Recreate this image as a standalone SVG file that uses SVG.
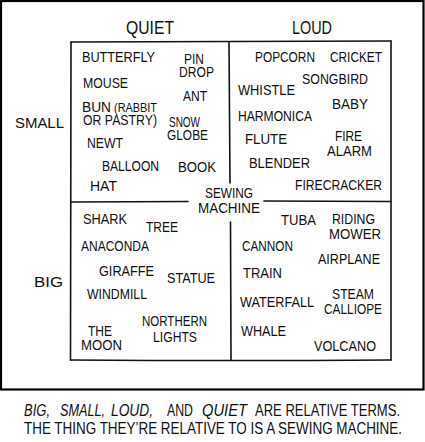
<svg xmlns="http://www.w3.org/2000/svg" width="425" height="442" viewBox="0 0 425 442">
<style>
  .t{font-family:"Liberation Sans","DejaVu Sans",sans-serif;font-size:14.5px;fill:#111}
  .h{font-size:18px}
  .s{font-size:12px}
  .c{font-size:16.5px}
  .i{font-style:italic}
  .ln{fill:none;stroke:#111;stroke-width:1.6;stroke-linecap:round}
</style>
<rect x="1" y="1" width="422.5" height="388.5" fill="#fff" stroke="#000" stroke-width="2.2"/>
<g id="grid">
  <path class="ln" d="M71,42 Q230,41.5 391,41"/>
  <path class="ln" d="M71,42 Q70.5,200 70.5,360"/>
  <path class="ln" d="M391,41 Q391.5,200 391,360"/>
  <path class="ln" d="M70.5,360 Q230,361 391,360"/>
  <path class="ln" d="M229,42 Q229.5,110 230,183"/>
  <path class="ln" d="M230.5,222 Q231,290 231,360"/>
  <path class="ln" d="M71,202 Q130,201.5 188,201.5"/>
  <path class="ln" d="M264,201 Q330,201 391,201.5"/>
</g>
<g id="axis-quiet"><text class="t h" x="126" y="34" textLength="48" lengthAdjust="spacingAndGlyphs">QUIET</text></g>
<g id="axis-loud"><text class="t h" x="292" y="34" textLength="40" lengthAdjust="spacingAndGlyphs">LOUD</text></g>
<g id="axis-small"><text class="t" x="15" y="128" font-size="15" textLength="49" lengthAdjust="spacingAndGlyphs">SMALL</text></g>
<g id="axis-big"><text class="t" x="34" y="287" font-size="16" textLength="29" lengthAdjust="spacingAndGlyphs">BIG</text></g>

<g id="butterfly"><text class="t" x="82" y="62" textLength="73" lengthAdjust="spacingAndGlyphs">BUTTERFLY</text></g>
<g id="pin-drop"><text class="t" x="184" y="64" textLength="20" lengthAdjust="spacingAndGlyphs">PIN</text><text class="t" x="179" y="77" textLength="35" lengthAdjust="spacingAndGlyphs">DROP</text></g>
<g id="mouse"><text class="t" x="83" y="88" textLength="45" lengthAdjust="spacingAndGlyphs">MOUSE</text></g>
<g id="ant"><text class="t" x="183" y="101" textLength="24" lengthAdjust="spacingAndGlyphs">ANT</text></g>
<g id="bun"><text class="t" x="82" y="112" textLength="29" lengthAdjust="spacingAndGlyphs">BUN</text><text class="t s" x="114" y="112" textLength="43" lengthAdjust="spacingAndGlyphs">(RABBIT</text><text class="t" x="83" y="125" font-size="13" textLength="74" lengthAdjust="spacingAndGlyphs">OR PASTRY)</text></g>
<g id="snow-globe"><text class="t" x="169" y="127" textLength="31" lengthAdjust="spacingAndGlyphs">SNOW</text><text class="t" x="167" y="140" textLength="41" lengthAdjust="spacingAndGlyphs">GLOBE</text></g>
<g id="newt"><text class="t" x="87" y="148" textLength="36" lengthAdjust="spacingAndGlyphs">NEWT</text></g>
<g id="balloon"><text class="t" x="102" y="171" textLength="57" lengthAdjust="spacingAndGlyphs">BALLOON</text></g>
<g id="book"><text class="t" x="178" y="172" textLength="38" lengthAdjust="spacingAndGlyphs">BOOK</text></g>
<g id="hat"><text class="t" x="90" y="191" textLength="27" lengthAdjust="spacingAndGlyphs">HAT</text></g>
<g id="sewing-machine"><text class="t" x="205" y="198" textLength="48" lengthAdjust="spacingAndGlyphs">SEWING</text><text class="t" x="198" y="213" textLength="62" lengthAdjust="spacingAndGlyphs">MACHINE</text></g>

<g id="popcorn"><text class="t" x="255" y="62" textLength="60" lengthAdjust="spacingAndGlyphs">POPCORN</text></g>
<g id="cricket"><text class="t" x="330" y="62" textLength="52" lengthAdjust="spacingAndGlyphs">CRICKET</text></g>
<g id="songbird"><text class="t" x="302" y="84" textLength="66" lengthAdjust="spacingAndGlyphs">SONGBIRD</text></g>
<g id="whistle"><text class="t" x="238" y="95" textLength="57" lengthAdjust="spacingAndGlyphs">WHISTLE</text></g>
<g id="baby"><text class="t" x="332" y="109" textLength="36" lengthAdjust="spacingAndGlyphs">BABY</text></g>
<g id="harmonica"><text class="t" x="238" y="121" textLength="74" lengthAdjust="spacingAndGlyphs">HARMONICA</text></g>
<g id="flute"><text class="t" x="245" y="144" textLength="42" lengthAdjust="spacingAndGlyphs">FLUTE</text></g>
<g id="fire-alarm"><text class="t" x="335" y="141" textLength="27" lengthAdjust="spacingAndGlyphs">FIRE</text><text class="t" x="327" y="156" textLength="45" lengthAdjust="spacingAndGlyphs">ALARM</text></g>
<g id="blender"><text class="t" x="249" y="168" textLength="61" lengthAdjust="spacingAndGlyphs">BLENDER</text></g>
<g id="firecracker"><text class="t" x="295" y="190" textLength="87" lengthAdjust="spacingAndGlyphs">FIRECRACKER</text></g>

<g id="shark"><text class="t" x="83" y="224" textLength="44" lengthAdjust="spacingAndGlyphs">SHARK</text></g>
<g id="tree"><text class="t" x="146" y="232" textLength="32" lengthAdjust="spacingAndGlyphs">TREE</text></g>
<g id="anaconda"><text class="t" x="81" y="251" textLength="68" lengthAdjust="spacingAndGlyphs">ANACONDA</text></g>
<g id="giraffe"><text class="t" x="99" y="276" textLength="55" lengthAdjust="spacingAndGlyphs">GIRAFFE</text></g>
<g id="statue"><text class="t" x="167" y="283" textLength="48" lengthAdjust="spacingAndGlyphs">STATUE</text></g>
<g id="windmill"><text class="t" x="87" y="299" textLength="60" lengthAdjust="spacingAndGlyphs">WINDMILL</text></g>
<g id="northern-lights"><text class="t" x="142" y="326" textLength="65" lengthAdjust="spacingAndGlyphs">NORTHERN</text><text class="t" x="153" y="342" textLength="44" lengthAdjust="spacingAndGlyphs">LIGHTS</text></g>
<g id="the-moon"><text class="t" x="88" y="336" textLength="24" lengthAdjust="spacingAndGlyphs">THE</text><text class="t" x="81" y="350" textLength="41" lengthAdjust="spacingAndGlyphs">MOON</text></g>

<g id="tuba"><text class="t" x="281" y="225" textLength="35" lengthAdjust="spacingAndGlyphs">TUBA</text></g>
<g id="riding-mower"><text class="t" x="332" y="224" textLength="43" lengthAdjust="spacingAndGlyphs">RIDING</text><text class="t" x="329" y="239" textLength="52" lengthAdjust="spacingAndGlyphs">MOWER</text></g>
<g id="cannon"><text class="t" x="242" y="251" textLength="51" lengthAdjust="spacingAndGlyphs">CANNON</text></g>
<g id="airplane"><text class="t" x="318" y="264" textLength="62" lengthAdjust="spacingAndGlyphs">AIRPLANE</text></g>
<g id="train"><text class="t" x="243" y="278" textLength="39" lengthAdjust="spacingAndGlyphs">TRAIN</text></g>
<g id="steam-calliope"><text class="t" x="332" y="299" textLength="42" lengthAdjust="spacingAndGlyphs">STEAM</text><text class="t" x="324" y="314" textLength="58" lengthAdjust="spacingAndGlyphs">CALLIOPE</text></g>
<g id="waterfall"><text class="t" x="240" y="307" textLength="74" lengthAdjust="spacingAndGlyphs">WATERFALL</text></g>
<g id="whale"><text class="t" x="241" y="336" textLength="45" lengthAdjust="spacingAndGlyphs">WHALE</text></g>
<g id="volcano"><text class="t" x="314" y="351" textLength="62" lengthAdjust="spacingAndGlyphs">VOLCANO</text></g>

<g id="caption">
  <text class="t c i" x="24" y="416" textLength="26" lengthAdjust="spacingAndGlyphs">BIG,</text>
  <text class="t c i" x="60" y="416" textLength="45" lengthAdjust="spacingAndGlyphs">SMALL,</text>
  <text class="t c i" x="111" y="416" textLength="42" lengthAdjust="spacingAndGlyphs">LOUD,</text>
  <text class="t c" x="167" y="416" textLength="26" lengthAdjust="spacingAndGlyphs">AND</text>
  <text class="t c i" x="202" y="416" textLength="45" lengthAdjust="spacingAndGlyphs">QUIET</text>
  <text class="t c" x="255" y="416" textLength="145" lengthAdjust="spacingAndGlyphs">ARE RELATIVE TERMS.</text>
  <text class="t c" x="24" y="434" textLength="378" lengthAdjust="spacingAndGlyphs">THE THING THEY’RE RELATIVE TO IS A SEWING MACHINE.</text>
</g>
</svg>
